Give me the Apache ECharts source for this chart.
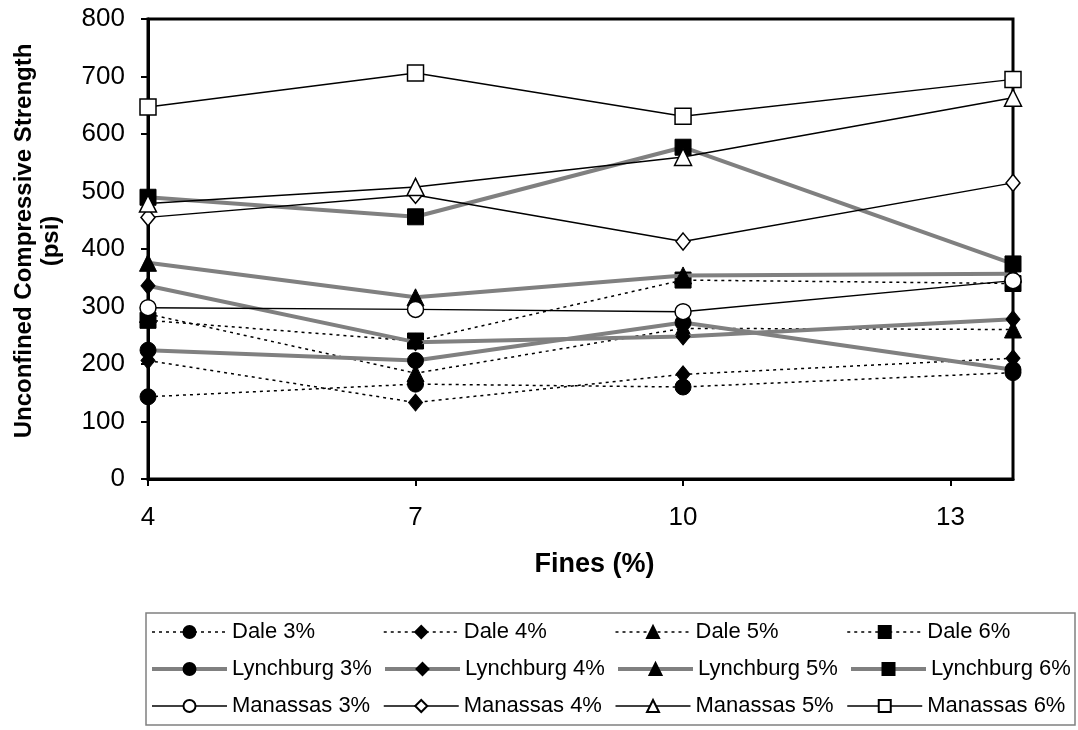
<!DOCTYPE html>
<html><head><meta charset="utf-8">
<script src="https://cdn.jsdelivr.net/npm/echarts@6/dist/echarts.min.js"></script>
<style>html,body{margin:0;padding:0;background:#fff}#c{width:1078px;height:730px}</style>
</head><body><div id="c"></div>
<script>
// x positions (Fines %)
const fines = [4, 7, 10, 13.7];
const xTickValues = [4, 7, 10, 13];
// series values (psi)
const dale3 = [143, 165, 160, 185];
const dale4 = [206, 133, 182, 210];
const dale5 = [287, 184, 262, 260];
const dale6 = [276, 240, 346, 340];
const lynch3 = [224, 206, 272, 190];
const lynch4 = [336, 238, 248, 278];
const lynch5 = [376, 316, 354, 357];
const lynch6 = [490, 456, 577, 374];
const man3 = [298, 295, 291, 345];
const man4 = [455, 494, 413, 515];
const man5 = [479, 508, 560, 663];
const man6 = [647, 706, 631, 695];

const FONT = '"Liberation Sans", Arial, sans-serif';

const markers = {
  '3%': {symbol: 'circle', size: 16},
  '4%': {symbol: 'diamond', size: [14, 17]},
  '5%': {symbol: 'triangle', size: 17},
  '6%': {symbol: 'rect', size: 16}
};
const groups = {
  Dale: {line: {color: '#000', width: 1.5, type: [3, 4]}, item: {color: '#000', borderColor: '#000', borderWidth: 1}},
  Lynchburg: {line: {color: '#808080', width: 4, type: 'solid'}, item: {color: '#000', borderColor: '#000', borderWidth: 1}},
  Manassas: {line: {color: '#000', width: 1.5, type: 'solid'}, item: {color: '#fff', borderColor: '#000', borderWidth: 1.5}}
};
const list = [
  ['Dale', '3%', dale3], ['Dale', '4%', dale4], ['Dale', '5%', dale5], ['Dale', '6%', dale6],
  ['Lynchburg', '3%', lynch3], ['Lynchburg', '4%', lynch4], ['Lynchburg', '5%', lynch5], ['Lynchburg', '6%', lynch6],
  ['Manassas', '3%', man3], ['Manassas', '4%', man4], ['Manassas', '5%', man5], ['Manassas', '6%', man6]
];

const series = list.map(([g, p, vals], k) => ({
  name: g + ' ' + p,
  type: 'line',
  data: fines.map((x, i) => [x, vals[i]]),
  symbol: markers[p].symbol,
  symbolSize: markers[p].size,
  showAllSymbol: true,
  lineStyle: Object.assign({}, groups[g].line),
  itemStyle: Object.assign({}, groups[g].item),
  z: 2 + k * 0.01,
  animation: false,
  emphasis: {disabled: true}
}));

const chart = echarts.init(document.getElementById('c'), null, {renderer: 'canvas'});
chart.setOption({
  backgroundColor: '#fff',
  animation: false,
  textStyle: {fontFamily: FONT, color: '#000'},
  grid: {left: 148, right: 65, top: 19, bottom: 251, show: true, borderColor: '#000', borderWidth: 3, backgroundColor: 'transparent'},
  xAxis: {
    type: 'value', min: 4, max: 13.7,
    name: 'Fines (%)', nameLocation: 'middle', nameGap: 72,
    nameTextStyle: {fontFamily: FONT, fontSize: 27, fontWeight: 'bold', color: '#000', padding: [0, 0, 0, 28]},
    axisLine: {show: true, lineStyle: {color: '#000', width: 3}},
    axisTick: {show: true, inside: false, length: 7, lineStyle: {color: '#000', width: 2}, customValues: xTickValues},
    axisLabel: {fontFamily: FONT, fontSize: 26, color: '#000', margin: 26, customValues: xTickValues},
    splitLine: {show: false}
  },
  yAxis: {
    type: 'value', min: 0, max: 800, interval: 100,
    name: 'Unconfined Compressive Strength\n(psi)', nameLocation: 'middle', nameRotate: 90, nameGap: 83,
    nameTextStyle: {fontFamily: FONT, fontSize: 24, fontWeight: 'bold', color: '#000', lineHeight: 27, align: 'center', padding: [0, 0, 0, 16]},
    axisLine: {show: true, lineStyle: {color: '#000', width: 3}},
    axisTick: {show: true, inside: false, length: 7, lineStyle: {color: '#000', width: 2}},
    axisLabel: {fontFamily: FONT, fontSize: 26, color: '#000', margin: 23},
    splitLine: {show: false}
  },
  legend: {
    left: 146, top: 613, width: 1000,
    orient: 'horizontal',
    padding: [6, 4, 6, 4],
    itemGap: 11,
    itemWidth: 75, itemHeight: 15,
    borderColor: '#808080', borderWidth: 1.5,
    backgroundColor: '#fff',
    lineStyle: {width: 'inherit', type: 'inherit', color: 'inherit'},
    textStyle: {fontFamily: FONT, fontSize: 22, color: '#000', width: 140, lineHeight: 26},
    selectedMode: false,
    data: list.map(([g, p]) => g + ' ' + p)
  },
  series: series
});
</script></body></html>
